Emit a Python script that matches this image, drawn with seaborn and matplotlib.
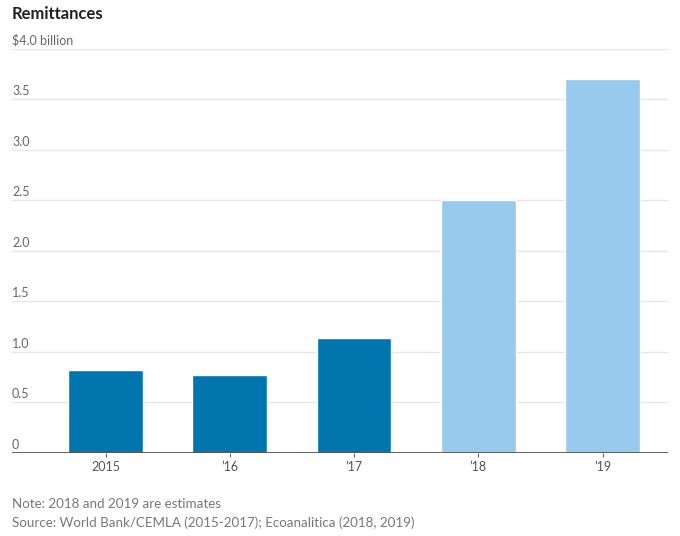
import pandas as pd
import matplotlib.pyplot as plt
import seaborn as sns

years = ['2015', '\u201916', '\u201917', '\u201918', '\u201919']
remittances = [0.82, 0.77, 1.14, 2.50, 3.70]
status = ['actual', 'actual', 'actual', 'estimate', 'estimate']
y_ticks = [0, 0.5, 1.0, 1.5, 2.0, 2.5, 3.0, 3.5, 4.0]
y_tick_labels = ['0', '0.5', '1.0', '1.5', '2.0', '2.5', '3.0', '3.5', '$4.0 billion']

data = pd.DataFrame({'year': years, 'value': remittances, 'status': status})

sns.set_style('white')
plt.rcParams['font.family'] = ['Lato', 'DejaVu Sans']

fig = plt.figure(figsize=(6.8, 5.36), dpi=100)
ax = fig.add_axes([12 / 680, (536 - 452.7) / 536, 656 / 680, 404 / 536])

sns.barplot(x='year', y='value', hue='status', data=data, ax=ax,
            palette={'actual': '#0176ae', 'estimate': '#97caed'},
            width=0.6, dodge=False, legend=False, saturation=1)

ax.set_xlim(-0.7525, 4.527)
ax.set_ylim(0, 4.0)

# gridlines and left-aligned y labels sitting above them
for t, lab in zip(y_ticks, y_tick_labels):
    if t > 0:
        ax.axhline(t, color='#e6e6e6', lw=1, zorder=0)
    ax.text(0, t + 0.018, lab, transform=ax.get_yaxis_transform(),
            ha='left', va='bottom', fontsize=9, color='#666666')
ax.axhline(0, color='#555555', lw=1.3, zorder=3)

ax.set_yticks([])
ax.set_xlabel('')
ax.set_ylabel('')
ax.tick_params(axis='x', length=3, width=0.8, color='#666666', labelsize=9,
               labelcolor='#555555', pad=3, bottom=True)
for s in ax.spines.values():
    s.set_visible(False)

fig.text(12 / 680, 1 - 14 / 536, 'Remittances', fontsize=12, fontweight='bold',
         color='#222222', ha='left', va='center')
fig.text(12 / 680, 1 - 504 / 536, 'Note: 2018 and 2019 are estimates',
         fontsize=9.6, color='#777777', ha='left', va='center')
fig.text(12 / 680, 1 - 523 / 536,
         'Source: World Bank/CEMLA (2015-2017); Ecoanalitica (2018, 2019)',
         fontsize=9.6, color='#777777', ha='left', va='center')

fig.savefig('out.png', dpi=100)
